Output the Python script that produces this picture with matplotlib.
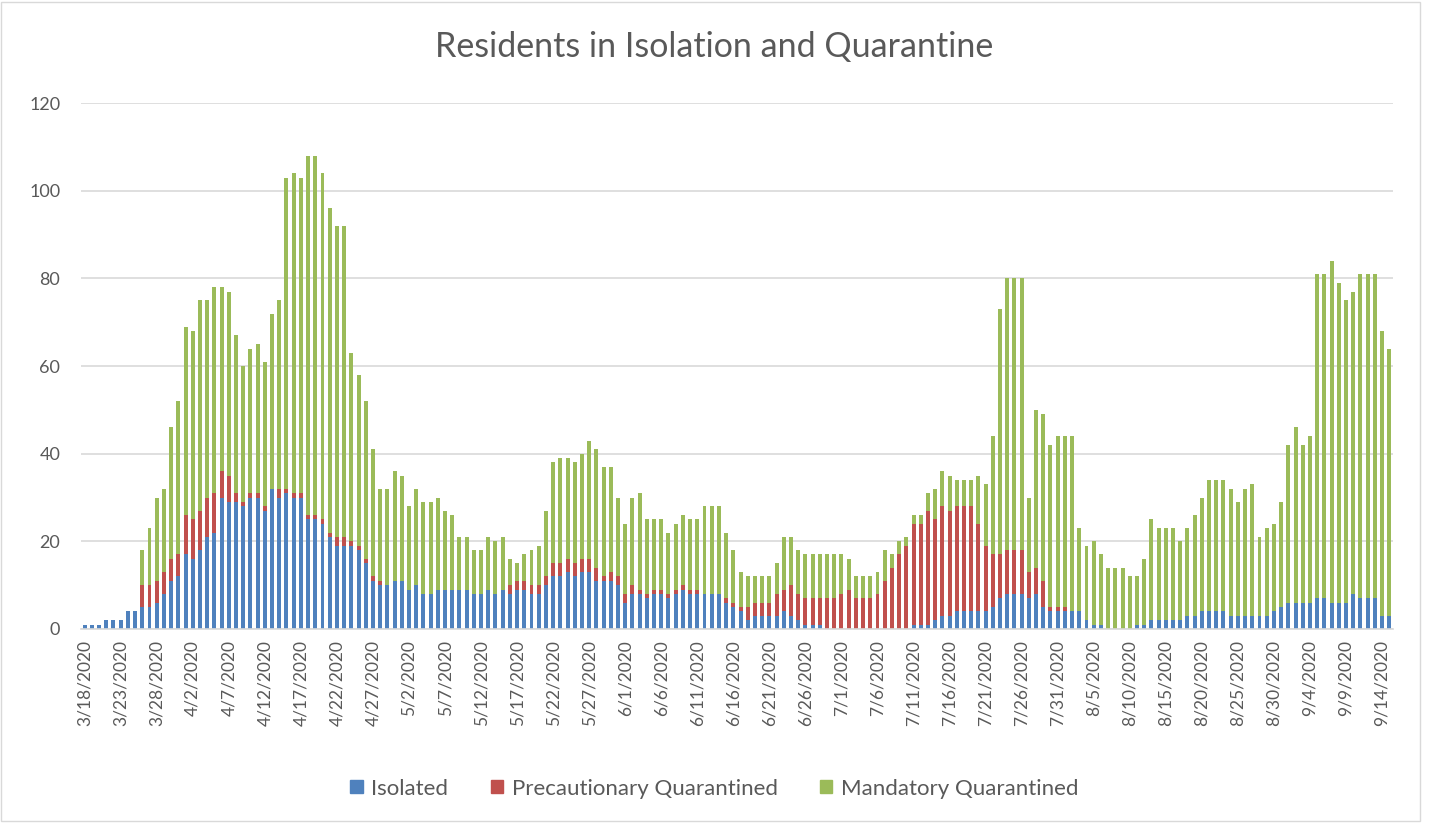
import matplotlib
matplotlib.use("Agg")
import matplotlib.pyplot as plt
from matplotlib.patches import Rectangle, Patch
import pandas as pd

# daily counts, 3/18/2020 .. 9/15/2020
isolated = [1, 1, 1, 2, 2, 2, 4, 4, 5, 5, 6, 8, 11, 12, 17, 16, 18, 21, 22, 30,
            29, 29, 28, 30, 30, 27, 32, 30, 31, 30, 30, 25, 25, 24, 21, 19, 19, 19, 18, 15,
            11, 10, 10, 11, 11, 9, 10, 8, 8, 9, 9, 9, 9, 9, 8, 8, 9, 8, 9, 8,
            9, 9, 8, 8, 10, 12, 12, 13, 12, 13, 13, 11, 11, 11, 10, 6, 8, 8, 7, 8,
            8, 7, 8, 9, 8, 8, 8, 8, 8, 6, 5, 4, 2, 3, 3, 3, 3, 4, 3, 2,
            1, 1, 1, 0, 0, 0, 0, 0, 0, 0, 0, 0, 0, 0, 0, 1, 1, 1, 2, 3,
            3, 4, 4, 4, 4, 4, 5, 7, 8, 8, 8, 7, 8, 5, 4, 4, 4, 4, 4, 2,
            1, 1, 0, 0, 0, 0, 1, 1, 2, 2, 2, 2, 2, 3, 3, 4, 4, 4, 4, 3,
            3, 3, 3, 3, 3, 4, 5, 6, 6, 6, 6, 7, 7, 6, 6, 6, 8, 7, 7, 7,
            3, 3]
precautionary = [0, 0, 0, 0, 0, 0, 0, 0, 5, 5, 5, 5, 5, 5, 9, 9, 9, 9, 9, 6,
                 6, 2, 1, 1, 1, 1, 0, 2, 1, 1, 1, 1, 1, 1, 1, 2, 2, 1, 1, 1,
                 1, 1, 0, 0, 0, 0, 0, 0, 0, 0, 0, 0, 0, 0, 0, 0, 0, 0, 0, 2,
                 2, 2, 2, 2, 2, 3, 3, 3, 3, 3, 3, 3, 1, 2, 2, 2, 2, 1, 1, 1,
                 1, 1, 1, 1, 1, 1, 0, 0, 0, 1, 1, 1, 3, 3, 3, 3, 5, 5, 7, 6,
                 6, 6, 6, 7, 7, 8, 9, 7, 7, 7, 8, 11, 14, 17, 19, 23, 23, 26, 23, 25,
                 24, 24, 24, 24, 20, 15, 12, 10, 10, 10, 10, 6, 6, 6, 1, 1, 1, 0, 0, 0,
                 0, 0, 0, 0, 0, 0, 0, 0, 0, 0, 0, 0, 0, 0, 0, 0, 0, 0, 0, 0,
                 0, 0, 0, 0, 0, 0, 0, 0, 0, 0, 0, 0, 0, 0, 0, 0, 0, 0, 0, 0,
                 0, 0]
mandatory = [0, 0, 0, 0, 0, 0, 0, 0, 8, 13, 19, 19, 30, 35, 43, 43, 48, 45, 47, 42,
             42, 36, 31, 33, 34, 33, 40, 43, 71, 73, 72, 82, 82, 79, 74, 71, 71, 43, 39, 36,
             29, 21, 22, 25, 24, 19, 22, 21, 21, 21, 18, 17, 12, 12, 10, 10, 12, 12, 12, 6,
             4, 6, 8, 9, 15, 23, 24, 23, 23, 24, 27, 27, 25, 24, 18, 16, 20, 22, 17, 16,
             16, 14, 15, 16, 16, 16, 20, 20, 20, 15, 12, 8, 7, 6, 6, 6, 7, 12, 11, 10,
             10, 10, 10, 10, 10, 9, 7, 5, 5, 5, 5, 7, 3, 3, 2, 2, 2, 4, 7, 8,
             8, 6, 6, 6, 11, 14, 27, 56, 62, 62, 62, 17, 36, 38, 37, 39, 39, 40, 19, 17,
             19, 16, 14, 14, 14, 12, 11, 15, 23, 21, 21, 21, 18, 20, 23, 26, 30, 30, 30, 29,
             26, 29, 30, 18, 20, 20, 24, 36, 40, 36, 38, 74, 74, 78, 73, 69, 69, 74, 74, 74,
             65, 61]

dates = pd.date_range("2020-03-18", periods=len(isolated), freq="D")
labels = [f"{d.month}/{d.day}/{d.year}" for d in dates]

blue = "#4F81BD"
red = "#C0504D"
green = "#9BBB59"
txt = "#595959"
grid = "#D9D9D9"

plt.rcParams["font.family"] = ["Lato", "DejaVu Sans"]

fig = plt.figure(figsize=(14.29, 8.24), dpi=100)
ax = fig.add_axes([0.0567, 0.2367, 0.918, 0.638])

x = list(range(len(isolated)))
w = 0.55
bottom2 = [a + b for a, b in zip(isolated, precautionary)]
ax.bar(x, isolated, w, color=blue, zorder=3)
ax.bar(x, precautionary, w, bottom=isolated, color=red, zorder=3)
ax.bar(x, mandatory, w, bottom=bottom2, color=green, zorder=3)

ax.set_xlim(-0.5, len(x) - 0.5)
ax.set_ylim(0, 120)
ax.set_yticks(range(0, 121, 20))
ax.set_xticks(x[::5])
ax.set_xticklabels(labels[::5], rotation=90)
ax.tick_params(axis="both", length=0, labelsize=13, colors=txt)
ax.tick_params(axis="x", labelsize=12.5, pad=8)
ax.tick_params(axis="y", pad=15)
ax.yaxis.grid(True, color=grid, linewidth=1.2, zorder=0)
for s in ["left", "right", "top"]:
    ax.spines[s].set_visible(False)
ax.spines["bottom"].set_color(grid)
ax.spines["bottom"].set_linewidth(1.2)
ax.spines["bottom"].set_zorder(4)

fig.text(0.5, 0.943, "Residents in Isolation and Quarantine", ha="center", va="center",
         fontsize=24.5, color=txt)

handles = [Patch(color=blue, label="Isolated"),
           Patch(color=red, label="Precautionary Quarantined"),
           Patch(color=green, label="Mandatory Quarantined")]
fig.legend(handles=handles, loc="center", bbox_to_anchor=(0.5, 0.043), ncol=3,
           frameon=False, fontsize=16, labelcolor=txt, handlelength=0.55,
           handleheight=0.55, handletextpad=0.4, columnspacing=1.9)

fig.patches.append(Rectangle((0.001, 0.004), 0.993, 0.994, transform=fig.transFigure,
                             fill=False, edgecolor=grid, linewidth=1))

fig.savefig("out.png", dpi=100)
